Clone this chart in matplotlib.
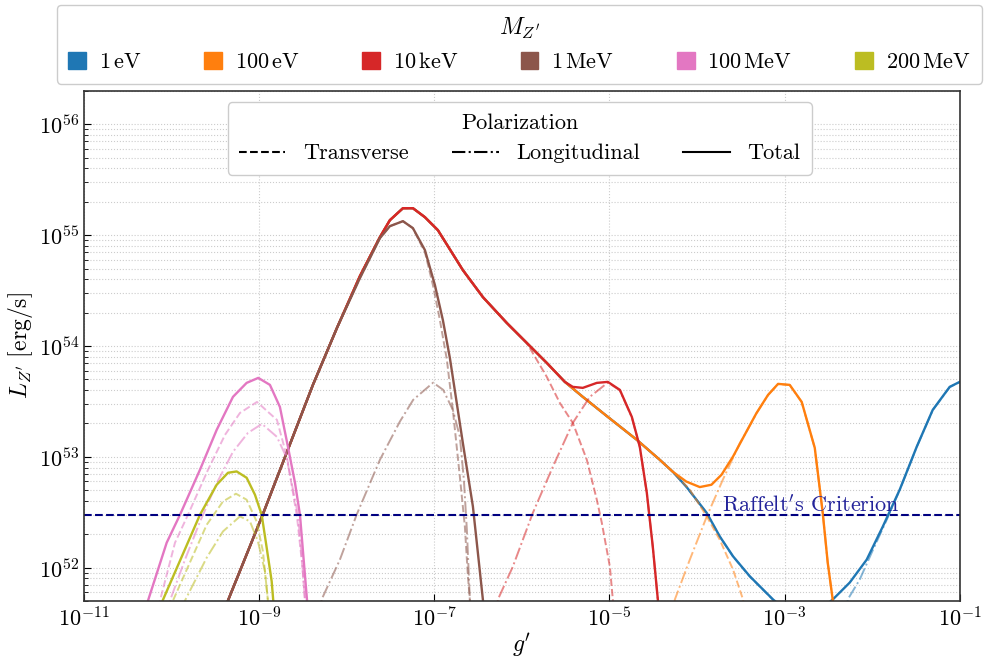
import numpy as np
import matplotlib
matplotlib.use("Agg")
import matplotlib.pyplot as plt
from matplotlib.lines import Line2D
from matplotlib.patches import Patch
from matplotlib import ticker

# Curves, as (log10 g', log10 L_Z' [erg/s]) pairs.

# shared rise / peak / fall that the light masses all follow
rise_peak = [(-9.46, 51.50), (-9.356, 51.703), (-8.96, 52.477), (-8.386, 53.649),
             (-8.112, 54.162), (-7.849, 54.631), (-7.621, 54.982), (-7.507, 55.135),
             (-7.358, 55.243), (-7.244, 55.243), (-7.107, 55.162), (-6.959, 55.045),
             (-6.674, 54.685), (-6.445, 54.441), (-6.171, 54.207), (-5.943, 54.027),
             (-5.715, 53.847)]
fall = [(-5.509, 53.676), (-5.304, 53.541), (-5.018, 53.360), (-4.687, 53.153),
        (-4.425, 52.973), (-4.276, 52.865)]

# 1 eV
ev1_tail = [(-4.123, 52.732), (-3.888, 52.493), (-3.740, 52.282), (-3.588, 52.102),
            (-3.397, 51.922), (-3.245, 51.802), (-3.131, 51.712), (-2.80, 51.50),
            (-2.450, 51.712), (-2.256, 51.865), (-2.062, 52.072), (-1.879, 52.369),
            (-1.685, 52.703), (-1.491, 53.090), (-1.308, 53.423), (-1.114, 53.631),
            (-1.0, 53.676)]
ev1_trans = [(-4.123, 52.730), (-3.888, 52.490), (-3.740, 52.280), (-3.588, 52.100),
             (-3.397, 51.920), (-3.245, 51.800), (-3.131, 51.710), (-3.0, 51.55)]
ev1_long = [(-2.29, 51.55), (-2.279, 51.712), (-2.142, 51.892), (-2.005, 52.135),
            (-1.833, 52.432), (-1.685, 52.700), (-1.491, 53.088), (-1.308, 53.421),
            (-1.114, 53.629), (-1.0, 53.674)]

# 100 eV
ev100_tail = [(-4.123, 52.777), (-3.968, 52.727), (-3.835, 52.748), (-3.720, 52.838),
              (-3.588, 53.003), (-3.435, 53.228), (-3.321, 53.394), (-3.188, 53.559),
              (-3.074, 53.658), (-2.941, 53.649), (-2.804, 53.495), (-2.655, 53.081),
              (-2.564, 52.495), (-2.507, 52.045), (-2.450, 51.712), (-2.43, 51.50)]
ev100_trans = [(-4.082, 52.703), (-3.888, 52.462), (-3.740, 52.252), (-3.588, 51.982),
               (-3.474, 51.712), (-3.45, 51.55)]
ev100_long = [(-4.27, 51.50), (-4.253, 51.712), (-4.082, 52.072), (-3.888, 52.462),
              (-3.705, 52.793), (-3.511, 53.123), (-3.435, 53.226), (-3.321, 53.392),
              (-3.188, 53.557), (-3.074, 53.656), (-2.941, 53.647), (-2.804, 53.493),
              (-2.655, 53.079), (-2.564, 52.493), (-2.507, 52.043), (-2.450, 51.710),
              (-2.43, 51.50)]

# 10 keV
kev10_tail = [(-5.509, 53.676), (-5.418, 53.631), (-5.304, 53.622), (-5.144, 53.667),
              (-5.018, 53.676), (-4.881, 53.604), (-4.744, 53.360), (-4.653, 53.090),
              (-4.573, 52.676), (-4.505, 52.192), (-4.447, 51.712), (-4.43, 51.50)]
kev10_trans = [(-5.715, 53.721), (-5.566, 53.486), (-5.418, 53.306), (-5.258, 52.973),
               (-5.144, 52.613), (-5.087, 52.405), (-4.995, 52.009), (-4.961, 51.712),
               (-4.95, 51.55)]
kev10_long = [(-6.29, 51.55), (-6.274, 51.712), (-6.103, 52.009), (-5.874, 52.495),
              (-5.646, 52.910), (-5.418, 53.306), (-5.224, 53.541), (-5.018, 53.670),
              (-4.881, 53.600), (-4.744, 53.356), (-4.653, 53.086), (-4.573, 52.672),
              (-4.505, 52.188), (-4.447, 51.708), (-4.43, 51.50)]

# 1 MeV
mev1_total = [(-9.46, 51.50), (-9.356, 51.703), (-8.96, 52.477), (-8.386, 53.649),
              (-8.112, 54.162), (-7.849, 54.613), (-7.621, 54.973), (-7.507, 55.081),
              (-7.358, 55.126), (-7.244, 55.063), (-7.107, 54.865), (-6.993, 54.550),
              (-6.902, 54.234), (-6.822, 53.892), (-6.674, 53.126), (-6.559, 52.552),
              (-6.502, 52.132), (-6.445, 51.712), (-6.43, 51.55)]
mev1_trans = [(-7.244, 55.060), (-7.107, 54.847), (-7.016, 54.550), (-6.936, 54.234),
              (-6.856, 53.874), (-6.788, 53.423), (-6.708, 52.820), (-6.651, 52.372),
              (-6.616, 51.922), (-6.594, 51.712), (-6.585, 51.55)]
mev1_long = [(-8.30, 51.55), (-8.287, 51.712), (-8.078, 52.072), (-7.887, 52.477),
             (-7.621, 52.973), (-7.393, 53.318), (-7.241, 53.514), (-7.013, 53.669),
             (-6.898, 53.604), (-6.788, 53.423), (-6.708, 53.183), (-6.662, 52.793),
             (-6.628, 52.342), (-6.594, 51.712), (-6.585, 51.55)]

# 100 MeV
mev100_total = [(-10.30, 51.55), (-10.269, 51.703), (-10.056, 52.225), (-9.904, 52.477),
                (-9.676, 52.883), (-9.485, 53.243), (-9.299, 53.541), (-9.143, 53.667),
                (-9.010, 53.712), (-8.877, 53.649), (-8.763, 53.450), (-8.671, 53.090),
                (-8.591, 52.766), (-8.534, 52.477), (-8.489, 52.045), (-8.454, 51.712),
                (-8.44, 51.50)]
mev100_trans = [(-10.16, 51.55), (-10.132, 51.703), (-9.961, 52.225), (-9.813, 52.477),
                (-9.584, 52.883), (-9.390, 53.198), (-9.219, 53.396), (-9.025, 53.495),
                (-8.797, 53.333), (-8.683, 53.000), (-8.568, 52.459), (-8.511, 52.045),
                (-8.477, 51.712), (-8.465, 51.50)]
mev100_long = [(-10.04, 51.55), (-10.018, 51.703), (-9.847, 52.072), (-9.676, 52.414),
               (-9.482, 52.766), (-9.299, 53.045), (-9.128, 53.216), (-8.968, 53.297),
               (-8.797, 53.180), (-8.686, 52.991), (-8.557, 52.477), (-8.511, 52.072),
               (-8.477, 51.703), (-8.465, 51.50)]

# 200 MeV
mev200_total = [(-10.14, 51.63), (-10.102, 51.703), (-9.676, 52.477), (-9.485, 52.748),
                (-9.356, 52.856), (-9.257, 52.868), (-9.143, 52.811), (-9.048, 52.658),
                (-8.971, 52.477), (-8.914, 52.180), (-8.857, 51.877), (-8.839, 51.703),
                (-8.83, 51.55)]
mev200_trans = [(-10.02, 51.62), (-9.984, 51.703), (-9.599, 52.387), (-9.413, 52.597),
                (-9.265, 52.667), (-9.143, 52.613), (-9.029, 52.417), (-8.957, 52.147),
                (-8.900, 51.703), (-8.89, 51.55)]
mev200_long = [(-9.88, 51.62), (-9.847, 51.703), (-9.599, 52.090), (-9.413, 52.327),
               (-9.219, 52.462), (-9.105, 52.417), (-9.014, 52.237), (-8.934, 51.967),
               (-8.900, 51.703), (-8.89, 51.55)]

mass_labels = [r"$1\,\mathrm{eV}$", r"$100\,\mathrm{eV}$", r"$10\,\mathrm{keV}$",
               r"$1\,\mathrm{MeV}$", r"$100\,\mathrm{MeV}$", r"$200\,\mathrm{MeV}$"]
colors = ["#1f77b4", "#ff7f0e", "#d62728", "#8c564b", "#e377c2", "#bcbd22"]

totals = [rise_peak + fall + ev1_tail, rise_peak + fall + ev100_tail,
          rise_peak + kev10_tail, mev1_total, mev100_total, mev200_total]
transverse = [fall + ev1_trans, fall + ev100_trans, rise_peak[:-1] + kev10_trans,
              mev1_total[:10] + mev1_trans, mev100_trans, mev200_trans]
longitudinal = [ev1_long, ev100_long, kev10_long, mev1_long, mev100_long, mev200_long]

raffelt = 3e52
x_major = 10.0 ** np.arange(-11, 0, 2)

plt.rcParams.update({
    "font.family": "serif",
    "font.serif": ["cmr10"],
    "mathtext.fontset": "cm",
    "axes.formatter.use_mathtext": True,
    "axes.unicode_minus": False,
    "font.size": 16,
})


def curve(pts):
    a = np.asarray(pts, dtype=float)
    return 10 ** a[:, 0], 10 ** a[:, 1]


fig = plt.figure(figsize=(9.85, 6.59), dpi=100)
ax = fig.add_axes([0.0853, 0.088, 0.889, 0.774])

for c, tot, tr, lo in zip(colors, totals, transverse, longitudinal):
    x, y = curve(lo)
    ax.plot(x, y, color=c, ls="-.", lw=1.4, alpha=0.55)
    x, y = curve(tr)
    ax.plot(x, y, color=c, ls="--", lw=1.4, alpha=0.55)
    x, y = curve(tot)
    ax.plot(x, y, color=c, ls="-", lw=1.7)

ax.axhline(raffelt, color="navy", ls="--", lw=1.5)
ax.text(1.95e-4, 3.2e52, r"Raffelt$'$s Criterion", color="#23239a",
        fontsize=16, va="baseline", ha="left")

ax.set_xscale("log")
ax.set_yscale("log")
ax.set_xlim(1e-11, 1e-1)
ax.set_ylim(5e51, 2e56)
ax.xaxis.set_major_locator(ticker.FixedLocator(x_major))
ax.xaxis.set_major_formatter(ticker.LogFormatterSciNotation())
ax.xaxis.set_minor_locator(ticker.NullLocator())
ax.yaxis.set_major_locator(ticker.LogLocator(base=10.0))
ax.yaxis.set_minor_locator(ticker.LogLocator(base=10.0, subs=np.arange(2, 10)))
ax.yaxis.set_minor_formatter(ticker.NullFormatter())
ax.tick_params(which="both", direction="in", labelsize=16)
ax.tick_params(which="major", length=5)
ax.tick_params(which="minor", length=3)
ax.grid(True, which="major", ls=":", color="#cccccc", lw=0.8)
ax.grid(True, which="minor", axis="y", ls=":", color="#cccccc", lw=0.8)
for s in ax.spines.values():
    s.set_color("#333333")
    s.set_linewidth(1.2)

ax.set_xlabel(r"$g'$", fontsize=17)
ax.set_ylabel(r"$L_{Z'}\ [\mathrm{erg/s}]$", fontsize=17)
ax.xaxis.set_label_coords(0.5, -0.058)
ax.yaxis.set_label_coords(-0.056, 0.5)

pol_handles = [Line2D([], [], color="black", ls="--", lw=1.5),
               Line2D([], [], color="black", ls="-.", lw=1.5),
               Line2D([], [], color="black", ls="-", lw=1.5)]
ax.legend(pol_handles, ["Transverse", "Longitudinal", "Total"], title="Polarization",
          loc="upper left", bbox_to_anchor=(0.164, 0.978, 0.667, 0.0), mode="expand",
          ncol=3, fontsize=16, title_fontsize=16, handlelength=2.1, handletextpad=0.8,
          borderaxespad=0.0, framealpha=1.0, borderpad=0.5)

mass_handles = [Patch(facecolor=c, edgecolor=c) for c in colors]
fig.legend(mass_handles, mass_labels, title=r"$M_{Z'}$", loc="upper left",
           bbox_to_anchor=(0.0579, 0.9924, 0.939, 0.0), mode="expand", ncol=6,
           fontsize=16, title_fontsize=17, handlelength=0.8, handleheight=0.8,
           handletextpad=0.58, borderaxespad=0.0, framealpha=1.0, borderpad=0.5)

fig.savefig("out.png", dpi=100)
